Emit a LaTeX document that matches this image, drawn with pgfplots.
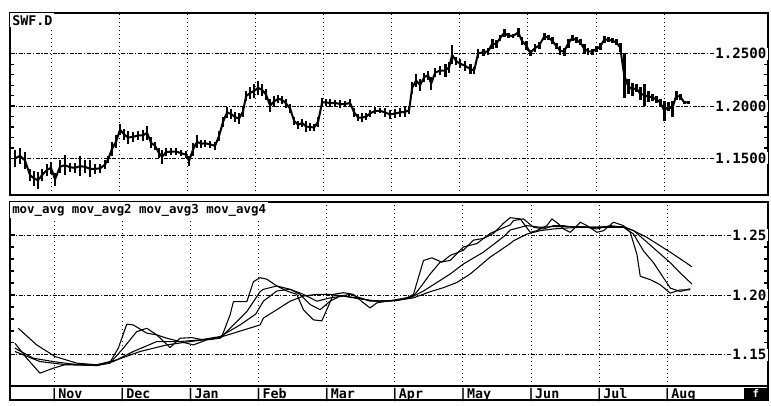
\documentclass[border=0pt]{standalone}
\usepackage{fontspec}
\setmainfont{DejaVu Sans Mono}
\usepackage{pgfplots}
\usepackage{pgfplotstable}
\pgfplotsset{compat=1.18}

% daily price bars: x in months (Nov = 1), low, high
\pgfplotstableread{
x lo hi
0.471 1.142 1.158
0.545 1.145 1.160
0.618 1.140 1.156
0.692 1.128 1.140
0.750 1.124 1.138
0.809 1.121 1.137
0.868 1.128 1.140
0.941 1.133 1.145
1.000 1.135 1.147
1.059 1.124 1.136
1.132 1.136 1.148
1.206 1.134 1.153
1.279 1.137 1.146
1.352 1.136 1.146
1.426 1.133 1.152
1.499 1.136 1.148
1.573 1.132 1.148
1.646 1.135 1.145
1.720 1.136 1.145
1.793 1.140 1.148
1.837 1.146 1.152
1.896 1.152 1.166
1.954 1.160 1.172
2.013 1.172 1.183
2.072 1.168 1.178
2.131 1.164 1.176
2.204 1.166 1.175
2.278 1.168 1.176
2.351 1.167 1.177
2.410 1.168 1.181
2.468 1.160 1.170
2.527 1.158 1.166
2.586 1.150 1.160
2.630 1.145 1.158
2.689 1.152 1.160
2.762 1.153 1.160
2.836 1.153 1.160
2.909 1.152 1.158
2.982 1.150 1.157
3.026 1.143 1.152
3.085 1.152 1.165
3.144 1.160 1.172
3.203 1.160 1.168
3.261 1.161 1.168
3.335 1.160 1.167
3.408 1.158 1.166
3.467 1.167 1.176
3.526 1.180 1.190
3.584 1.189 1.199
3.643 1.188 1.197
3.702 1.185 1.194
3.761 1.183 1.193
3.819 1.190 1.200
3.863 1.205 1.214
3.922 1.207 1.218
3.981 1.208 1.221
4.040 1.211 1.224
4.098 1.210 1.221
4.157 1.206 1.216
4.216 1.194 1.207
4.275 1.199 1.210
4.333 1.203 1.211
4.392 1.202 1.210
4.451 1.198 1.207
4.510 1.193 1.202
4.568 1.182 1.190
4.627 1.178 1.186
4.686 1.180 1.188
4.744 1.175 1.186
4.803 1.176 1.184
4.862 1.176 1.183
4.921 1.180 1.190
4.979 1.199 1.208
5.038 1.200 1.207
5.097 1.199 1.207
5.170 1.200 1.206
5.244 1.198 1.206
5.317 1.199 1.205
5.391 1.199 1.207
5.449 1.190 1.198
5.508 1.186 1.192
5.567 1.185 1.193
5.626 1.187 1.193
5.684 1.190 1.196
5.758 1.192 1.199
5.831 1.193 1.198
5.904 1.190 1.198
5.978 1.188 1.196
6.051 1.189 1.197
6.125 1.190 1.198
6.198 1.190 1.199
6.257 1.192 1.200
6.301 1.212 1.223
6.360 1.218 1.231
6.418 1.214 1.226
6.477 1.223 1.232
6.536 1.225 1.234
6.580 1.215 1.228
6.639 1.228 1.236
6.712 1.230 1.238
6.786 1.228 1.240
6.844 1.232 1.242
6.888 1.240 1.258
6.947 1.239 1.247
7.006 1.236 1.245
7.079 1.234 1.243
7.153 1.231 1.240
7.211 1.231 1.237
7.270 1.246 1.255
7.344 1.248 1.255
7.417 1.249 1.256
7.476 1.255 1.264
7.535 1.256 1.263
7.593 1.262 1.268
7.652 1.266 1.274
7.711 1.265 1.270
7.784 1.265 1.269
7.858 1.266 1.275
7.916 1.258 1.266
7.975 1.254 1.262
8.034 1.248 1.254
8.107 1.252 1.259
8.166 1.255 1.261
8.240 1.263 1.270
8.298 1.263 1.268
8.357 1.259 1.266
8.416 1.255 1.260
8.474 1.249 1.257
8.533 1.248 1.256
8.592 1.256 1.264
8.651 1.262 1.268
8.709 1.260 1.266
8.768 1.258 1.264
8.827 1.251 1.259
8.885 1.249 1.256
8.944 1.249 1.255
9.003 1.252 1.257
9.062 1.254 1.260
9.120 1.260 1.267
9.179 1.261 1.266
9.238 1.260 1.265
9.297 1.258 1.264
9.355 1.252 1.260
9.414 1.208 1.251
9.473 1.212 1.226
9.532 1.210 1.222
9.590 1.213 1.221
9.649 1.206 1.218
9.708 1.200 1.221
9.767 1.204 1.214
9.826 1.205 1.212
9.884 1.203 1.210
9.943 1.200 1.207
10.002 1.186 1.205
10.061 1.195 1.204
10.119 1.190 1.205
10.178 1.206 1.214
10.237 1.206 1.212
10.296 1.202 1.205
10.355 1.202 1.205
}\price

\pgfplotstableread{
x y
0.427 1.1597
0.599 1.1472
0.794 1.1347
0.990 1.1389
1.186 1.1422
1.430 1.1417
1.627 1.1417
1.822 1.1439
1.944 1.1556
2.068 1.1756
2.164 1.1750
2.361 1.1681
2.508 1.1667
2.703 1.1561
2.850 1.1639
3.022 1.1644
3.192 1.1625
3.389 1.1639
3.463 1.1653
3.584 1.1833
3.633 1.1944
3.830 1.1944
3.927 1.2111
4.025 1.2144
4.123 1.2132
4.270 1.2075
4.417 1.2033
4.564 1.2005
4.661 1.1877
4.808 1.1792
4.931 1.1784
5.004 1.1877
5.101 1.2005
5.248 1.2019
5.395 1.2005
5.542 1.1934
5.640 1.1892
5.739 1.1934
5.885 1.1948
6.032 1.1962
6.179 1.1976
6.276 1.2005
6.423 1.2288
6.546 1.2310
6.693 1.2274
6.815 1.2330
7.010 1.2373
7.157 1.2458
7.304 1.2472
7.451 1.2514
7.598 1.2599
7.696 1.2645
7.843 1.2635
7.990 1.2523
8.088 1.2537
8.235 1.2579
8.308 1.2635
8.405 1.2593
8.479 1.2551
8.577 1.2523
8.651 1.2565
8.724 1.2607
8.822 1.2579
8.969 1.2523
9.066 1.2537
9.213 1.2607
9.360 1.2579
9.458 1.2523
9.556 1.2339
9.605 1.2156
9.752 1.2128
9.899 1.2085
10.046 1.2015
10.192 1.2043
10.339 1.2043
}\maA

\pgfplotstableread{
x y
0.427 1.1556
0.696 1.1472
0.990 1.1444
1.283 1.1422
1.627 1.1411
1.822 1.1431
2.018 1.1556
2.214 1.1694
2.361 1.1722
2.508 1.1667
2.655 1.1639
2.850 1.1611
3.046 1.1583
3.242 1.1625
3.438 1.1639
3.633 1.1750
3.830 1.1861
4.025 1.2028
4.073 1.2047
4.270 1.2075
4.466 1.2047
4.612 1.2005
4.759 1.1920
4.906 1.1877
5.053 1.1948
5.200 1.1991
5.347 1.2005
5.493 1.1976
5.640 1.1948
5.836 1.1948
6.032 1.1954
6.276 1.1991
6.374 1.2061
6.521 1.2175
6.668 1.2274
6.815 1.2288
7.010 1.2401
7.207 1.2429
7.402 1.2514
7.696 1.2585
7.744 1.2621
7.891 1.2635
8.038 1.2565
8.185 1.2551
8.332 1.2579
8.479 1.2579
8.626 1.2565
8.822 1.2565
8.969 1.2551
9.164 1.2579
9.360 1.2565
9.507 1.2508
9.653 1.2367
9.800 1.2269
9.947 1.2142
10.046 1.2057
10.192 1.2029
10.339 1.2052
}\maB

\pgfplotstableread{
x y
0.427 1.1528
0.794 1.1444
1.186 1.1417
1.627 1.1411
1.871 1.1444
2.164 1.1528
2.508 1.1611
2.850 1.1611
3.144 1.1625
3.438 1.1653
3.731 1.1750
3.960 1.1840
4.073 1.1948
4.270 1.2033
4.466 1.2047
4.661 1.2005
4.858 1.1948
5.053 1.1976
5.248 1.1991
5.445 1.1976
5.640 1.1954
5.934 1.1948
6.228 1.1976
6.423 1.2033
6.620 1.2104
6.815 1.2175
7.010 1.2259
7.304 1.2358
7.598 1.2486
7.696 1.2542
7.941 1.2579
8.137 1.2565
8.332 1.2571
8.529 1.2571
8.724 1.2571
8.919 1.2565
9.116 1.2571
9.360 1.2571
9.507 1.2537
9.653 1.2466
9.850 1.2367
10.046 1.2269
10.192 1.2184
10.364 1.2091
}\maC

\pgfplotstableread{
x y
0.476 1.1722
0.746 1.1583
1.015 1.1486
1.333 1.1431
1.627 1.1417
1.921 1.1458
2.263 1.1528
2.655 1.1583
2.997 1.1611
3.389 1.1639
3.633 1.1681
4.025 1.1750
4.073 1.1807
4.270 1.1877
4.466 1.1948
4.661 1.1991
4.858 1.2005
5.053 1.2005
5.248 1.1991
5.445 1.1971
5.739 1.1948
6.032 1.1954
6.276 1.1976
6.521 1.2027
6.717 1.2061
6.913 1.2104
7.109 1.2175
7.402 1.2316
7.696 1.2429
7.744 1.2452
7.941 1.2508
8.137 1.2537
8.332 1.2551
8.529 1.2559
8.724 1.2565
8.919 1.2565
9.116 1.2565
9.360 1.2565
9.507 1.2537
9.703 1.2480
9.899 1.2410
10.094 1.2339
10.364 1.2235
}\maD

\pgfplotsset{
  panel/.style={
    scale only axis, width=568.5pt,
    axis line style={line width=1.3pt},
    xtick={1,2,...,10}, xticklabels={}, xtick style={draw=none},
    xmajorgrids, ymajorgrids,
    x grid style={black, line width=0.6pt, dash pattern=on 0.8pt off 2.2pt},
    y grid style={black, line width=0.6pt, dash pattern=on 3pt off 1.2pt on 1pt off 1.2pt},
    minor y tick num=4, ytick pos=both, tick align=inside,
    ytick style={black, line width=0.9pt},
    major tick length=4pt, minor tick length=3pt,
    yticklabel pos=right,
    yticklabel style={anchor=east, fill=white, inner xsep=1pt, inner ysep=0.5pt,
      font=\bfseries\fontsize{10.6}{12}\selectfont},
    /pgf/number format/assume math mode=true,
    /pgf/number format/fixed, /pgf/number format/fixed zerofill,
  },
}

\begin{document}
\begin{tikzpicture}
\path[use as bounding box] (0,0) rectangle (578.25pt,303.75pt);

\begin{axis}[panel, name=top, at={(7.5pt,157.5pt)}, anchor=south west,
    height=136.5pt,
    xmin=0.398, xmax=11.525, ymin=1.115, ymax=1.289,
    ytick={1.15,1.20,1.25},
    /pgf/number format/precision=4]
  \addplot[black, line width=1.5pt, line join=round, no markers,
    error bars/.cd, y dir=both, y explicit,
    error bar style={line width=2pt, solid}, error mark=none]
    table[x=x, y expr={(\thisrow{lo}+\thisrow{hi})/2},
          y error expr={(\thisrow{hi}-\thisrow{lo})/2}] {\price};
  \node[anchor=north west, inner sep=1.5pt, fill=white,
    font=\bfseries\fontsize{10}{11}\selectfont] at (rel axis cs:0,1) {SWF.D};
\end{axis}

\begin{axis}[panel, name=bot, at={(7.5pt,14.25pt)}, anchor=south west,
    height=138pt,
    xmin=0.354, xmax=11.48, ymin=1.124, ymax=1.2776,
    ytick={1.15,1.20,1.25},
    /pgf/number format/precision=2,
    xticklabels={{|Nov},{|Dec},{|Jan},{|Feb},{|Mar},{|Apr},{|May},{|Jun},{|Jul},{|Aug}},
    xticklabel style={anchor=north west, inner xsep=0pt, inner ysep=1.6pt, xshift=-3pt,
      font=\bfseries\fontsize{10}{11}\selectfont}]
  \addplot[black, line width=0.8pt, line join=round, no markers] table[x=x, y=y] {\maA};
  \addplot[black, line width=0.8pt, line join=round, no markers] table[x=x, y=y] {\maB};
  \addplot[black, line width=0.8pt, line join=round, no markers] table[x=x, y=y] {\maC};
  \addplot[black, line width=0.8pt, line join=round, no markers] table[x=x, y=y] {\maD};
  \node[anchor=north west, inner sep=1.5pt, fill=white,
    font=\bfseries\fontsize{9.3}{10}\selectfont] at (rel axis cs:0,1)
    {mov\_avg mov\_avg2 mov\_avg3 mov\_avg4};
\end{axis}

\draw[line width=1.3pt] (bot.south west) rectangle ([yshift=-10.5pt]bot.south east);
\node[fill=black, text=white, anchor=north east, minimum width=18pt,
  minimum height=8.5pt, inner sep=0pt, font=\bfseries\fontsize{8}{8}\selectfont]
  at ([yshift=-1pt]bot.south east) {f};
\end{tikzpicture}
\end{document}
